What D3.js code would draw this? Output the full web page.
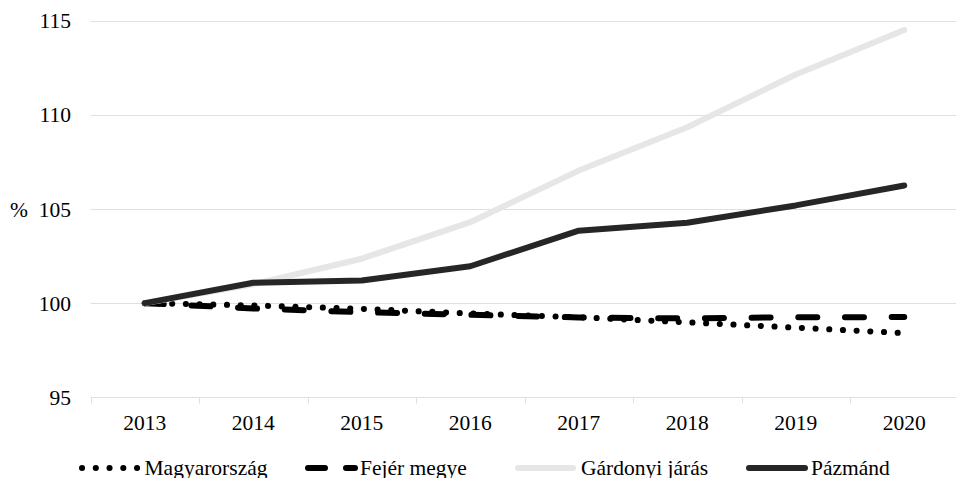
<!DOCTYPE html>
<html>
<head>
<meta charset="utf-8">
<script src="https://cdn.jsdelivr.net/npm/d3@7"></script>
<style>
  html, body { margin: 0; padding: 0; background: #fff; }
  svg text { font-family: 'Liberation Serif', 'DejaVu Serif', serif; }
</style>
</head>
<body>
<svg id="chart" width="956" height="478"></svg>
<script>
// years on the x axis
const years = ['2013', '2014', '2015', '2016', '2017', '2018', '2019', '2020'];

// series values (2013 = 100 %)
const magyarorszag = [100, 99.88, 99.70, 99.45, 99.25, 98.98, 98.70, 98.41];
const fejerMegye = [100, 99.72, 99.52, 99.38, 99.24, 99.19, 99.25, 99.26];
const gardonyiJaras = [100, 101.0, 102.36, 104.3, 107.04, 109.34, 112.14, 114.51];
const pazmand = [100, 101.08, 101.2, 101.96, 103.85, 104.27, 105.19, 106.25];

const yTicks = [95, 100, 105, 110, 115];

const series = [
  { name: 'Magyarország', values: magyarorszag, color: '#000', dash: '0.1,13.6', legendDash: '0.1,13.65' },
  { name: 'Fejér megye', values: fejerMegye, color: '#000', dash: '19,27.7', legendDash: '17,21' },
  { name: 'Gárdonyi járás', values: gardonyiJaras, color: '#e7e6e6', dash: null, legendDash: null },
  { name: 'Pázmánd', values: pazmand, color: '#262626', dash: null, legendDash: null }
];

const FONT = "'Liberation Serif', 'DejaVu Serif', serif";
const FS = 21.5;

const svg = d3.select('#chart');

const x = d3.scaleBand().domain(years).range([90.5, 958.5]);
const y = d3.scaleLinear().domain([95, 115]).range([397.3, 20.7]);

// gridlines
svg.append('g')
  .selectAll('line')
  .data(yTicks)
  .join('line')
  .attr('x1', 90.5)
  .attr('x2', 956)
  .attr('y1', (d) => Math.round(y(d)) + 0.5)
  .attr('y2', (d) => Math.round(y(d)) + 0.5)
  .attr('stroke', '#dbe1e9')
  .attr('stroke-width', 1);

// y labels
svg.append('g')
  .selectAll('text')
  .data(yTicks)
  .join('text')
  .attr('x', 71)
  .attr('y', (d) => y(d))
  .attr('dy', '0.35em')
  .attr('text-anchor', 'end')
  .attr('font-family', FONT)
  .attr('font-size', FS)
  .attr('fill', '#000')
  .text((d) => d);

svg.append('text')
  .attr('x', 10)
  .attr('y', y(105))
  .attr('dy', '0.35em')
  .attr('font-family', FONT)
  .attr('font-size', FS)
  .text('%');

// x axis: boundary ticks + labels
const xAxis = svg.append('g')
  .attr('transform', `translate(0,${Math.round(y(95)) + 0.5})`)
  .call(d3.axisBottom(x).tickSize(0).tickPadding(17));
xAxis.attr('font-family', FONT);
xAxis.select('.domain').remove();
xAxis.selectAll('text')
  .attr('font-size', FS)
  .attr('font-family', FONT)
  .attr('fill', '#000');

const bounds = years.map((d) => Math.round(x(d)) + 0.5);
xAxis.selectAll('.bound')
  .data(bounds)
  .join('line')
  .attr('class', 'bound')
  .attr('x1', (d) => d)
  .attr('x2', (d) => d)
  .attr('y1', 0)
  .attr('y2', 6)
  .attr('stroke', '#dbe1e9');

// lines
const line = d3.line()
  .x((d, i) => x(years[i]) + x.bandwidth() / 2)
  .y((d) => y(d));

svg.append('g')
  .selectAll('path')
  .data(series)
  .join('path')
  .attr('d', (s) => line(s.values))
  .attr('fill', 'none')
  .attr('stroke', (s) => s.color)
  .attr('stroke-width', 6)
  .attr('stroke-linecap', 'round')
  .attr('stroke-linejoin', 'round')
  .attr('stroke-dasharray', (s) => s.dash);

// legend
const legendItems = [
  { x1: 82, x2: 137.5, tx: 144.5 },
  { x1: 308, x2: 355, tx: 360 },
  { x1: 518, x2: 573, tx: 581 },
  { x1: 749, x2: 805, tx: 811 }
];

const legend = svg.append('g');
series.forEach((s, i) => {
  const it = legendItems[i];
  legend.append('line')
    .attr('x1', it.x1)
    .attr('x2', it.x2)
    .attr('y1', 468)
    .attr('y2', 468)
    .attr('stroke', s.color)
    .attr('stroke-width', 6)
    .attr('stroke-linecap', 'round')
    .attr('stroke-dasharray', s.legendDash);
  legend.append('text')
    .attr('x', it.tx)
    .attr('y', 474.5)
    .attr('font-family', FONT)
    .attr('font-size', FS)
    .attr('fill', '#000')
    .text(s.name);
});
</script>
</body>
</html>
